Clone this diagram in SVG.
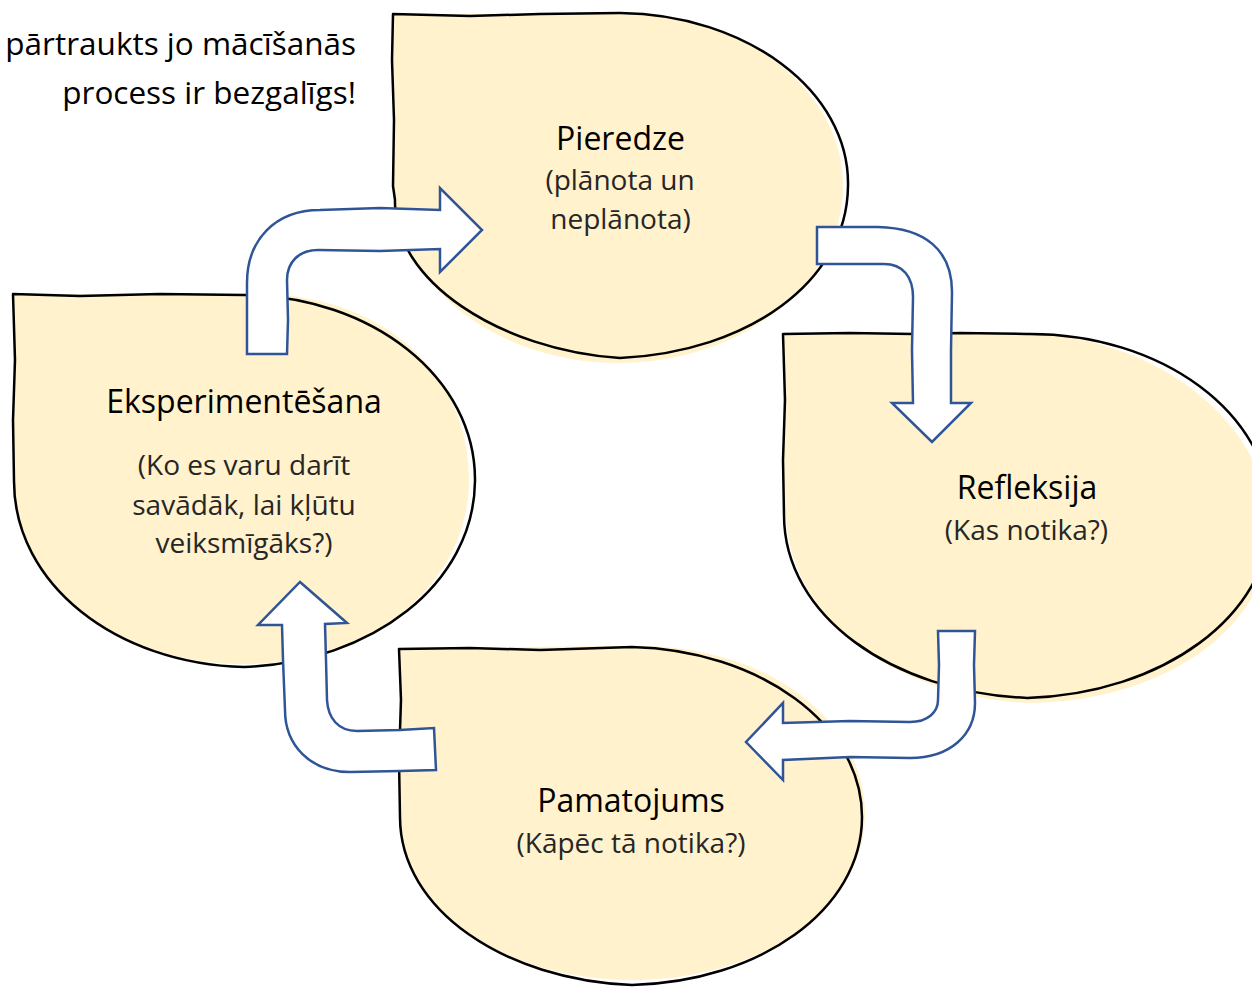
<svg xmlns="http://www.w3.org/2000/svg" width="1252" height="987" viewBox="0 0 1252 987">
<style>
.fill{fill:#FFF2CC;stroke:none}
.outline{fill:none;stroke:#000;stroke-width:2.5;stroke-linejoin:round;stroke-linecap:round}
.title{font-family:"Open Sans","Noto Sans","DejaVu Sans",sans-serif;font-size:32px;fill:#000;text-anchor:middle}
.sub{font-family:"Open Sans","Noto Sans","DejaVu Sans",sans-serif;font-size:28px;fill:#262626;text-anchor:middle}
.note{font-family:"Open Sans","Noto Sans","DejaVu Sans",sans-serif;font-size:31.5px;fill:#000;text-anchor:end}
.arrow{fill:#fff;stroke:#2F5597;stroke-width:2.5;stroke-linejoin:miter}
</style>
<rect width="1252" height="987" fill="#fff"/>

<g id="note">
<text class="note" x="356" y="55">pārtraukts jo mācīšanās</text>
<text class="note" x="356" y="104">process ir bezgalīgs!</text>
</g>

<g id="node-pieredze">
<path class="fill" d="M393,186 L393,14 L620,14 C746,14 843,91 843,186 C843,285 740,363 618,363 C495,362 397,285 393,186 Z"/>
<path class="outline" d="M393,186 L394,120 L392,60 L393,14 L470,16 L540,14 L620,13 C746,14 850,91 848,186 C847,282 748,352 620,358 C500,350 393,281 395,200 Z"/>
<text class="title" x="620.5" y="150">Pieredze</text>
<text class="sub" x="620" y="190">(plānota un</text>
<text class="sub" x="620.5" y="229">neplānota)</text>
</g>

<g id="node-refleksija">
<path class="fill" d="M783,515 L783,333 L1027,333 C1158,338 1262,420 1270,520 C1278,624 1165,703 1027,703 C898,696 790,622 786,515 Z"/>
<path class="outline" d="M784,515 L783,460 L785,400 L783,334 L850,333 L913,334 L960,333 L1027,334 C1162,333 1271,414 1271,515 C1271,616 1162,694 1027,698 C892,692 784,616 784,515 Z"/>
<text class="title" x="1027" y="499">Refleksija</text>
<text class="sub" x="1026.5" y="540">(Kas notika?)</text>
</g>

<g id="node-eksperimentesana">
<path class="fill" d="M13,481 L13,294 L244,294 C380,289 470,372 469,481 C468,584 372,664 244,664 C116,664 14,584 14,481 Z"/>
<path class="outline" d="M14,481 L13,420 L15,360 L13,294 L80,296 L160,294 L244,295 C372,296 476,378 475,481 C474,584 372,662 244,667 C116,664 14,584 14,481 Z"/>
<text class="title" x="244" y="413">Eksperimentēšana</text>
<text class="sub" x="244" y="475">(Ko es varu darīt</text>
<text class="sub" x="244" y="515">savādāk, lai kļūtu</text>
<text class="sub" x="244" y="553">veiksmīgāks?)</text>
</g>

<g id="node-pamatojums">
<path class="fill" d="M399,817 L399,648 L632,646 C768,643 867,722 865,817 C862,910 759,980 632,980 C505,980 403,910 400,817 Z"/>
<path class="outline" d="M400,817 L399,760 L401,700 L399,649 L470,648 L540,650 L632,647 C759,650 862,724 862,817 C862,910 759,982 632,985 C505,980 400,910 400,817 Z"/>
<text class="title" x="631" y="812">Pamatojums</text>
<text class="sub" x="631" y="853">(Kāpēc tā notika?)</text>
</g>

<g id="connectors">
<path class="arrow" d="M247,354 L247,283 C247,240 275,210 320,210 L380,208 L440,210 L440,188 L482,230 L440,272 L440,249 L380,251 L318,250 C299,250 287,262 287,280 L288,320 L287,354 Z"/>
<path class="arrow" d="M817,227 L878,227 C925,228 952,250 952,292 L951,350 L951,403 L971,403 L932,442 L892,403 L913,403 L912,350 L913,297 C913,277 903,264 884,264 L817,264 Z"/>
<path class="arrow" d="M938,631 L975,631 L974,665 L975,703 C975,735 950,758 910,758 L850,757 L783,760 L783,780 L746,742 L783,703 L783,723 L850,721 L910,722 C928,722 938,712 938,700 L939,665 Z"/>
<path class="arrow" d="M300,582 L347,623 L325,624 L326,660 L327,700 C328,718 338,731 357,731 L400,730 L434,728 L436,770 L400,771 L350,772 C310,772 285,745 285,710 L283,660 L282,625 L258,625 Z"/>
</g>
</svg>
